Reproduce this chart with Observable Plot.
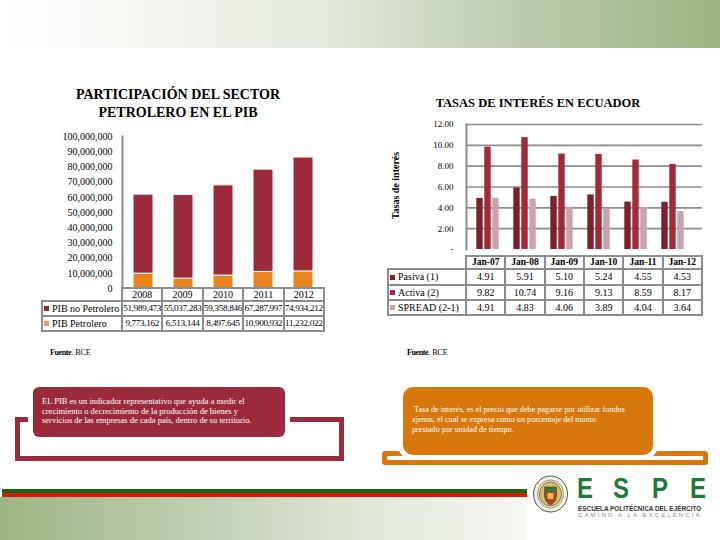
<!DOCTYPE html>
<html>
<head>
<meta charset="utf-8">
<script src="https://cdn.jsdelivr.net/npm/d3@7"></script>
<script src="https://cdn.jsdelivr.net/npm/@observablehq/plot@0.6"></script>
<style>
html, body { margin: 0; padding: 0; }
body { width: 720px; height: 540px; position: relative; overflow: hidden; background: #fff;
  font-family: "Liberation Serif", "Times New Roman", serif; color: #000; }
.abs { position: absolute; }
#header { left: 0; top: 0; width: 720px; height: 48px;
  background: linear-gradient(to right, #ffffff 0%, #fbfcfa 8%, #e4eadd 45%, #bccbab 72%, #9cb582 100%); }
.title { font-weight: bold; font-size: 14px; text-align: center; line-height: 18px; white-space: nowrap; }
.cell { position: absolute; box-sizing: border-box; border: 2px solid #8c8c8c; display: flex; align-items: center;
  white-space: nowrap; line-height: 1; }
.mk { display: inline-block; width: 5px; height: 5px; margin-right: 3px; }
.fuente { font-size: 8px; white-space: nowrap; }
.fuente b { font-weight: bold; letter-spacing: -0.4px; }
.box { position: absolute; box-sizing: border-box; color: #fff; font-size: 8.5px; line-height: 9.6px;
  box-shadow: 0 0 0 5px #fff; }
.frameline { position: absolute; box-sizing: border-box; }
.espe { position: absolute; top: 0; line-height: 25px; transform: scaleX(0.8); transform-origin: left; }
</style>
</head>
<body>
<div id="header" class="abs"></div>

<div class="abs title" style="left:30px;top:86px;width:296px;">PARTICIPACIÓN DEL SECTOR<br>PETROLERO EN EL PIB</div>
<div class="abs title" style="left:388px;top:94px;width:300px;font-size:12.5px;">TASAS DE INTERÉS EN ECUADOR</div>

<div id="leftChart" class="abs" style="left:0;top:128px;"></div>
<div id="rightChart" class="abs" style="left:380px;top:116px;"></div>
<div class="abs" style="left:355px;top:180px;width:80px;text-align:center;font-size:10px;font-weight:bold;transform:rotate(-90deg);white-space:nowrap;">Tasas de interés</div>

<div id="tables"></div>

<div class="abs fuente" style="left:50px;top:348px;"><b>Fuente</b>. BCE</div>
<div class="abs fuente" style="left:407px;top:348px;"><b>Fuente</b>. BCE</div>

<!-- red frame and box -->
<div class="frameline" style="left:15px;top:417px;width:329px;height:44px;border:5px solid #9b2b3a;"></div>
<div class="box" style="left:33px;top:387px;width:252px;height:50px;background:#9b2b3a;border-radius:6px;padding:10px 0 0 9px;">EL PIB es un indicador representativo que ayuda a medir el<br>crecimiento o decrecimiento de la producción de bienes y<br>servicios de las empresas de cada país, dentro de su territorio.</div>

<!-- orange frame and box -->
<div class="frameline" style="left:382px;top:451px;width:326px;height:14px;border:5px solid #d8780c;border-radius:3px;"></div>
<div class="box" style="left:403px;top:387px;width:250px;height:68px;background:#d8780c;border-radius:10px;padding:18px 0 0 9px;font-size:8.2px;line-height:10px;">&nbsp;Tasa de interés, es el precio que debe pagarse por utilizar fondos<br>ajenos, el cual se expresa como un porcentaje del monto<br>prestado por unidad de tiempo.</div>

<!-- footer -->
<div class="abs" style="left:0;top:497px;width:527px;height:43px;background:linear-gradient(to right,#9cb583 0%,#c3d0b5 40%,#dfe6d7 68%,#f6f8f3 100%);"></div>
<div class="abs" style="left:2px;top:489px;width:525px;height:4px;background:#146a10;"></div>
<div class="abs" style="left:2px;top:493px;width:525px;height:4px;background:#e1150d;"></div>

<svg class="abs" style="left:532px;top:475px;" width="37" height="38">
  <ellipse cx="18.5" cy="19" rx="17" ry="18" fill="#f1eee2" stroke="#555" stroke-width="1"/>
  <ellipse cx="18.5" cy="19" rx="13" ry="14" fill="none" stroke="#777" stroke-width="0.8"/>
  <ellipse cx="18.5" cy="19" rx="11" ry="12" fill="#d8bf6e" stroke="#6b5a2a" stroke-width="0.8"/>
  <path d="M12.5 12 h12 v8 q0 7 -6 10 q-6 -3 -6 -10z" fill="#c4372b" stroke="#2e6b2e" stroke-width="0.8"/>
  <rect x="13.5" y="13" width="10" height="4" fill="#2e7d32"/>
  <rect x="15.5" y="18" width="6" height="6" fill="#e2c14a"/>
</svg>
<div class="abs" style="left:577px;top:474.6px;height:25px;width:130px;font-family:'Liberation Sans Narrow','Liberation Sans',sans-serif;font-weight:bold;font-size:30px;color:#1d7a3a;">
  <span class="espe" style="left:0px;">E</span>
  <span class="espe" style="left:36px;">S</span>
  <span class="espe" style="left:75px;">P</span>
  <span class="espe" style="left:113px;">E</span>
</div>
<div class="abs" style="left:578px;top:504.5px;line-height:7px;font-family:'Liberation Sans',sans-serif;font-weight:bold;font-size:6.4px;color:#333;white-space:nowrap;">ESCUELA POLITÉCNICA DEL EJÉRCITO</div>
<div class="abs" style="left:578px;top:512px;line-height:7px;font-family:'Liberation Sans',sans-serif;font-size:6px;letter-spacing:2.1px;color:#8a8a8a;white-space:nowrap;">CAMINO A LA EXCELENCIA</div>

<script>
// ---------- Data: PIB ----------
const years = ["2008", "2009", "2010", "2011", "2012"];
const pibNoPetrolero = [51989473, 55037283, 59358846, 67287997, 74934212];
const pibPetrolero = [9773162, 6513144, 8497645, 10900932, 11232022];
const pibSeries = ["PIB no Petrolero", "PIB Petrolero"];
const pibColors = ["#9b2b3a", "#e9841c"];
const pibMarkerColors = ["#8e2a36", "#e0a062"];
const pibTicks = [0, 10000000, 20000000, 30000000, 40000000, 50000000, 60000000, 70000000, 80000000, 90000000, 100000000];

// ---------- Data: Tasas de interés ----------
const fechas = ["Jan-07", "Jan-08", "Jan-09", "Jan-10", "Jan-11", "Jan-12"];
const tasaPasiva = [4.91, 5.91, 5.10, 5.24, 4.55, 4.53];
const tasaActiva = [9.82, 10.74, 9.16, 9.13, 8.59, 8.17];
const tasaSpread = [4.91, 4.83, 4.06, 3.89, 4.04, 3.64];
const tasaSeries = ["Pasiva (1)", "Activa (2)", "SPREAD (2-1)"];
const tasaColors = ["#7d1f2d", "#a3283a", "#c9a2aa"];
const tasaTicks = [0, 2, 4, 6, 8, 10, 12];

// ---------- Left chart ----------
const pibData = years.flatMap((year, i) => [
  {year, serie: pibSeries[1], value: pibPetrolero[i]},
  {year, serie: pibSeries[0], value: pibNoPetrolero[i]}
]);

const leftPlot = Plot.plot({
  width: 340, height: 168,
  marginTop: 8, marginBottom: 8, marginLeft: 122, marginRight: 16,
  style: {background: "transparent", fontFamily: "'Liberation Serif', serif", fontSize: "10px", color: "#000", overflow: "visible"},
  x: {domain: years, paddingInner: 0.5, paddingOuter: 0.25, axis: null},
  y: {domain: [0, 100000000], label: null, ticks: pibTicks, tickFormat: d3.format(","), tickSize: 0, tickPadding: 10},
  color: {domain: pibSeries, range: pibColors},
  marks: [
    Plot.barY(pibData, {x: "year", y: "value", fill: "serie", stroke: "#fff", strokeWidth: 1}),
    Plot.frame({anchor: "left", stroke: "#8c8c8c", strokeWidth: 2})
  ]
});
document.getElementById("leftChart").appendChild(leftPlot);

// ---------- Right chart ----------
const tasaValues = [tasaPasiva, tasaActiva, tasaSpread];
const rightPlot = Plot.plot({
  width: 340, height: 140,
  marginTop: 8, marginBottom: 7, marginLeft: 86, marginRight: 18,
  style: {background: "transparent", fontFamily: "'Liberation Serif', serif", fontSize: "9px", color: "#000", overflow: "visible"},
  x: {domain: fechas, range: [86, 313.4], padding: 0, axis: null},
  y: {domain: [0, 12], label: null, ticks: tasaTicks, tickFormat: d => d === 0 ? "-" : d.toFixed(2), tickSize: 0, tickPadding: 13},
  marks: [
    Plot.ruleY(tasaTicks.filter(d => d > 0), {stroke: "#8c8c8c", strokeWidth: 1.7}),
    Plot.frame({anchor: "left", stroke: "#8c8c8c", strokeWidth: 2}),
    ...tasaValues.map((vals, k) => Plot.barY(vals, {
      x: (d, i) => fechas[i], y: d => d, fill: tasaColors[k],
      insetLeft: 15.3, insetRight: 15.3, dx: (k - 1) * 8
    }))
  ]
});
document.getElementById("rightChart").appendChild(rightPlot);

// ---------- Tables ----------
const tables = document.getElementById("tables");
function cell(x0, x1, y0, y1, html, opts = {}) {
  const d = document.createElement("div");
  d.className = "cell";
  d.style.left = (x0 - 1) + "px";
  d.style.top = (y0 - 1) + "px";
  d.style.width = (x1 - x0 + 2) + "px";
  d.style.height = (y1 - y0 + 2) + "px";
  d.style.fontSize = (opts.fontSize || 10) + "px";
  d.style.justifyContent = opts.justify || "center";
  if (opts.bold) d.style.fontWeight = "bold";
  if (opts.padLeft != null) d.style.paddingLeft = opts.padLeft + "px";
  if (opts.letterSpacing != null) d.style.letterSpacing = opts.letterSpacing + "px";
  d.style.overflow = opts.overflow || "visible";
  d.innerHTML = html;
  tables.appendChild(d);
}
function drawTable({labelX0, x0, colW, rowEdges, header, rows, headerBold, valueJustify, valuePad, fontSize, valueSize, valueSpacing, headerSize}) {
  header.forEach((h, c) => cell(x0 + c * colW, x0 + (c + 1) * colW, rowEdges[0], rowEdges[1], h, {bold: headerBold, fontSize: headerSize}));
  rows.forEach((r, ri) => {
    const y0 = rowEdges[ri + 1], y1 = rowEdges[ri + 2];
    cell(labelX0, x0, y0, y1, `<span class="mk" style="background:${r.color}"></span>${r.label}`, {justify: "flex-start", padLeft: 1, fontSize});
    r.values.forEach((v, c) => cell(x0 + c * colW, x0 + (c + 1) * colW, y0, y1, v, {justify: valueJustify, padLeft: valuePad, fontSize: valueSize || fontSize, letterSpacing: valueSpacing}));
  });
}

const fmtPib = d3.format(",");
drawTable({
  labelX0: 42, x0: 122, colW: 40.4, rowEdges: [288, 301, 316, 331],
  header: years,
  rows: [
    {label: pibSeries[0], color: pibMarkerColors[0], values: pibNoPetrolero.map(fmtPib)},
    {label: pibSeries[1], color: pibMarkerColors[1], values: pibPetrolero.map(fmtPib)}
  ],
  headerBold: false, valueJustify: "center", valuePad: 0, fontSize: 10, valueSize: 9.2, valueSpacing: -0.35, headerSize: 10
});

drawTable({
  labelX0: 388, x0: 466, colW: 39.33, rowEdges: [256, 269, 285, 300, 315],
  header: fechas,
  rows: tasaSeries.map((s, k) => ({label: s, color: tasaColors[k], values: tasaValues[k].map(v => v.toFixed(2))})),
  headerBold: true, valueJustify: "center", valuePad: 0, fontSize: 10, headerSize: 9.5
});
</script>
</body>
</html>
